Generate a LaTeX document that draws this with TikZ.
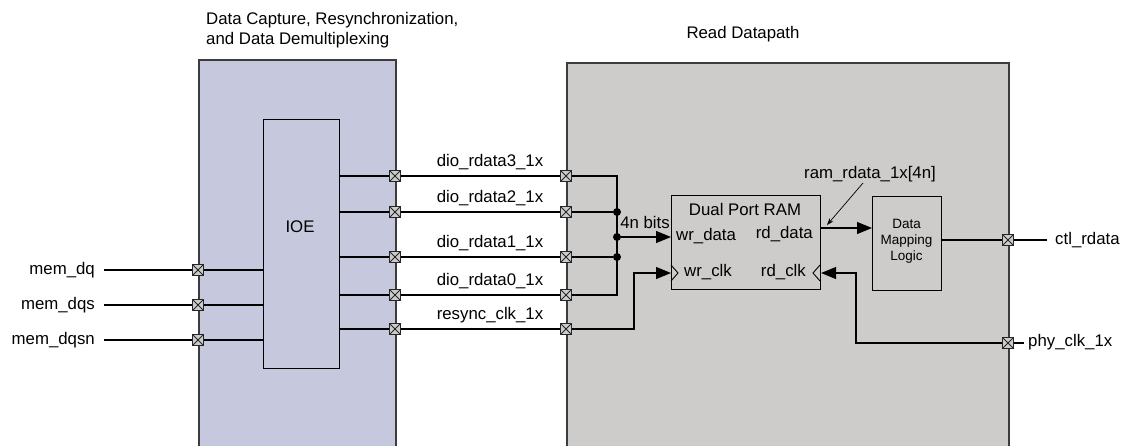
\documentclass[tikz,border=0pt]{standalone}
\usepackage{fontspec}
\setmainfont{Liberation Sans}
\usetikzlibrary{arrows.meta}
\definecolor{capblue}{RGB}{198,201,221}
\definecolor{rdgray}{RGB}{205,204,202}
\definecolor{edgegray}{RGB}{60,60,60}
\tikzset{
  blockbox/.style={draw=edgegray, line width=1.6pt, anchor=north west, inner sep=0pt},
  innerbox/.style={draw=black, line width=1.1pt, anchor=north west, inner sep=0pt},
  port/.style={draw=black!85, fill=black!20, minimum size=11pt, inner sep=0pt, line width=1pt,
    path picture={\draw[line width=0.8pt] (path picture bounding box.south west) -- (path picture bounding box.north east)
      (path picture bounding box.north west) -- (path picture bounding box.south east);}},
  wire/.style={draw=black, line width=1.2pt},
  bigarrow/.style={wire, -{Triangle[length=15pt,width=12pt]}},
  txt/.style={inner sep=0pt, font=\fontsize{16.8}{20}\selectfont},
  smalltxt/.style={inner sep=0pt, align=center, font=\fontsize{13.5}{16}\selectfont},
  junction/.style={circle, fill=black, minimum size=8pt, inner sep=0pt},
}
\begin{document}
\begin{tikzpicture}[x=1pt,y=-1pt]
\useasboundingbox (0,0) rectangle (1121,445);
% blocks
\node[blockbox, fill=capblue, minimum width=197pt, minimum height=420pt] (capblk) at (198,59) {};
\node[blockbox, fill=rdgray, minimum width=442pt, minimum height=420pt] (rdblk) at (566,62) {};
\node[innerbox, fill=capblue, minimum width=76pt, minimum height=249pt] (ioe) at (263,119) {};
\node[txt] (ioelbl) at (300,227) {IOE};
\node[innerbox, fill=rdgray, minimum width=149pt, minimum height=94pt] (ram) at (671,195) {};
\node[innerbox, fill=rdgray, minimum width=69pt, minimum height=94pt] (dml) at (872,196) {};
\node[smalltxt] (dmllbl) at (906.5,241) {Data\\Mapping\\Logic};
% titles
\node[txt, anchor=north west, align=left, font=\fontsize{16.8}{20}\selectfont] (captitle) at (206,12) {Data Capture, Resynchronization,\\and Data Demultiplexing};
\node[txt] (rdtitle) at (743,34) {Read Datapath};
% RAM labels
\node[txt] (ramtitle) at (745,209) {Dual Port RAM};
\node[txt, anchor=west] (wrdata) at (676,236) {wr\_data};
\node[txt, anchor=east] (rddata) at (813,234) {rd\_data};
\node[txt, anchor=west] (wrclk) at (684,272) {wr\_clk};
\node[txt, anchor=east] (rdclk) at (806,272) {rd\_clk};
\draw[line width=0.9pt] (671,265) -- (678,273) -- (671,281);
\draw[line width=0.9pt] (820,265) -- (813,273) -- (820,281);
% input ports
\foreach \n/\y/\t in {dq/270/mem\_dq, dqs/305/mem\_dqs, dqsn/340/mem\_dqsn}{
  \node[txt, anchor=east] (l\n) at (95,\y) {\t};
  \coordinate (s\n) at (104,\y);
  \coordinate (i\n) at (ioe.west |- 0,\y);
  \draw[wire] (s\n) -- (i\n);
  \node[port] (p\n) at (198,\y) {};
}
% output ports
\foreach \n/\y/\t in {d3/176/dio\_rdata3\_1x, d2/212/dio\_rdata2\_1x, d1/257/dio\_rdata1\_1x, d0/295/dio\_rdata0\_1x, rs/329/resync\_clk\_1x}{
  \coordinate (o\n) at (ioe.east |- 0,\y);
  \node[port] (a\n) at (395,\y) {};
  \node[port] (b\n) at (566,\y) {};
  \draw[wire] (o\n) -- (a\n) -- (b\n);
  \node[port] at (395,\y) {};
  \node[port] at (566,\y) {};
  \node[txt] (t\n) at (490,\y-14) {\t};
}
% bus
\coordinate (bustop) at (617,176);
\coordinate (busbot) at (617,295);
\draw[wire] (bd3) -- (bustop) -- (busbot) -- (bd0);
\node[junction] (j2) at (617,212) {};
\node[junction] (jm) at (617,237) {};
\node[junction] (j1) at (617,257) {};
\draw[wire] (bd2) -- (j2);
\draw[wire] (bd1) -- (j1);
\node[port] at (566,176) {};
\node[port] at (566,212) {};
\node[port] at (566,257) {};
\node[port] at (566,295) {};
\draw[bigarrow] (jm) -- (ram.west |- jm);
\node[txt] (bits) at (645,222) {4n bits};
% resync clock
\coordinate (rs1) at (634,329);
\coordinate (rs2) at (634,273);
\draw[bigarrow] (brs) -- (rs1) -- (rs2) -- (ram.west |- rs2);
\node[port] at (566,329) {};
% rd data
\coordinate (rdout) at (ram.east |- 0,228);
\draw[bigarrow] (rdout) -- (dml.west |- rdout);
\node[txt] (ramlbl) at (870,174) {ram\_rdata\_1x[4n]};
\coordinate (lblfoot) at (863,183);
\draw[line width=0.7pt, -{Stealth[length=7pt,width=5pt]}] (lblfoot) -- (827,225);
% ctl_rdata
\node[port] (pctl) at (1008,240) {};
\coordinate (ctlend) at (1047,240);
\draw[wire] (dml.east |- pctl) -- (pctl) -- (ctlend);
\node[port] at (1008,240) {};
\node[txt, anchor=west] (ctllbl) at (1055,240) {ctl\_rdata};
% phy_clk
\node[port] (pphy) at (1008,343) {};
\coordinate (ph1) at (856,343);
\coordinate (ph2) at (856,273);
\coordinate (phend) at (1024,343);
\draw[bigarrow] (pphy) -- (ph1) -- (ph2) -- (ram.east |- ph2);
\draw[wire] (pphy) -- (phend);
\node[port] at (1008,343) {};
\node[txt, anchor=west] (phylbl) at (1028,342) {phy\_clk\_1x};
% input ports on top
\node[port] at (198,270) {};
\node[port] at (198,305) {};
\node[port] at (198,340) {};
\end{tikzpicture}
\end{document}
